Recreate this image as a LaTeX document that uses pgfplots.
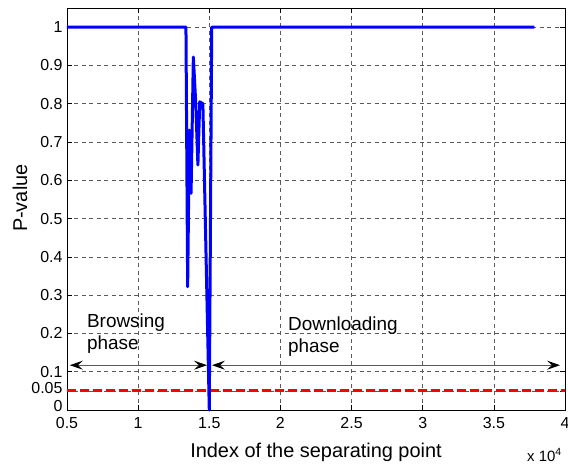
\documentclass[border=0pt]{standalone}
\usepackage{pgfplots}
\pgfplotsset{compat=1.18}
\usepackage{fontspec}
\setmainfont{Liberation Sans}
\usetikzlibrary{arrows.meta}
\definecolor{mblue}{RGB}{0,0,255}
\definecolor{mred}{RGB}{255,0,0}
\definecolor{gridc}{RGB}{90,90,90}
\begin{document}
\begin{tikzpicture}
\begin{axis}[
  at={(0,0)}, anchor=south west,
  scale only axis, width=498bp, height=402bp,
  xmin=0.5, xmax=4, ymin=0, ymax=1.05,
  xtick={0.5,1,1.5,2,2.5,3,3.5,4},
  xticklabels={0.5,1,1.5,2,2.5,3,3.5,4},
  ytick={0,0.05,0.1,0.2,0.3,0.4,0.5,0.6,0.7,0.8,0.9,1},
  yticklabels={\raisebox{4bp}[\height][\depth]{0},\raisebox{2.5bp}[\height][\depth]{0.05},0.1,0.2,0.3,0.4,0.5,0.6,0.7,0.8,0.9,1},
  tick align=inside,
  major tick length=5bp,
  tick style={black, line width=0.6bp},
  axis line style={black, line width=0.8bp},
  grid=major,
  major grid style={gridc, dash pattern=on 4bp off 3.5bp, line width=0.6bp},
  ticklabel style={font=\fontsize{16}{18}\selectfont},
  xticklabel style={yshift=-4bp},
  yticklabel style={xshift=-1bp, inner ysep=0.5bp},
  xlabel={Index of the separating point},
  ylabel={P-value},
  xlabel style={font=\fontsize{20}{24}\selectfont, at={(axis description cs:0.5,0)}, anchor=base, yshift=-47bp},
  ylabel style={font=\fontsize{20}{24}\selectfont, at={(axis description cs:-0.0803,0.527)}, anchor=base, rotate=0},
  clip=false,
]
\addplot[mred, line width=2.8bp, dash pattern=on 9bp off 4bp] coordinates {(0.5,0.05) (4,0.05)};
\addplot[mblue, line width=3bp, line join=round] coordinates {
(0.5,1) (1.336,1) (1.348,0.322) (1.360,0.731) (1.372,0.566) (1.388,0.922)
(1.405,0.80) (1.420,0.640) (1.433,0.805) (1.455,0.800) (1.500,0.0) (1.517,1) (3.785,1)};
\draw[gray!70!black, line width=0.8bp, {Stealth[black,length=13bp,width=9bp,inset=5bp]}-{Stealth[black,length=13bp,width=9bp,inset=5bp]}]
  (axis cs:0.52,0.117) -- (axis cs:1.484,0.117);
\draw[gray!70!black, line width=0.8bp, {Stealth[black,length=13bp,width=9bp,inset=5bp]}-{Stealth[black,length=13bp,width=9bp,inset=5bp]}]
  (axis cs:1.519,0.117) -- (axis cs:3.965,0.117);
\node[anchor=north west, inner sep=0pt, align=left, font=\fontsize{19}{22.5}\selectfont] at (axis cs:0.64,0.253) {Browsing\\phase};
\node[anchor=north west, inner sep=0pt, align=left, font=\fontsize{19}{22.5}\selectfont] at (axis cs:2.053,0.245) {Downloading\\phase};
\node[anchor=base west, inner sep=0pt, font=\fontsize{15}{18}\selectfont] at ([xshift=-38bp,yshift=-51bp]axis cs:4,0) {x 10\textsuperscript{4}};
\end{axis}
\pgfresetboundingbox
\useasboundingbox (-67bp,-54bp) rectangle (501bp,410bp);
\end{tikzpicture}
\end{document}
